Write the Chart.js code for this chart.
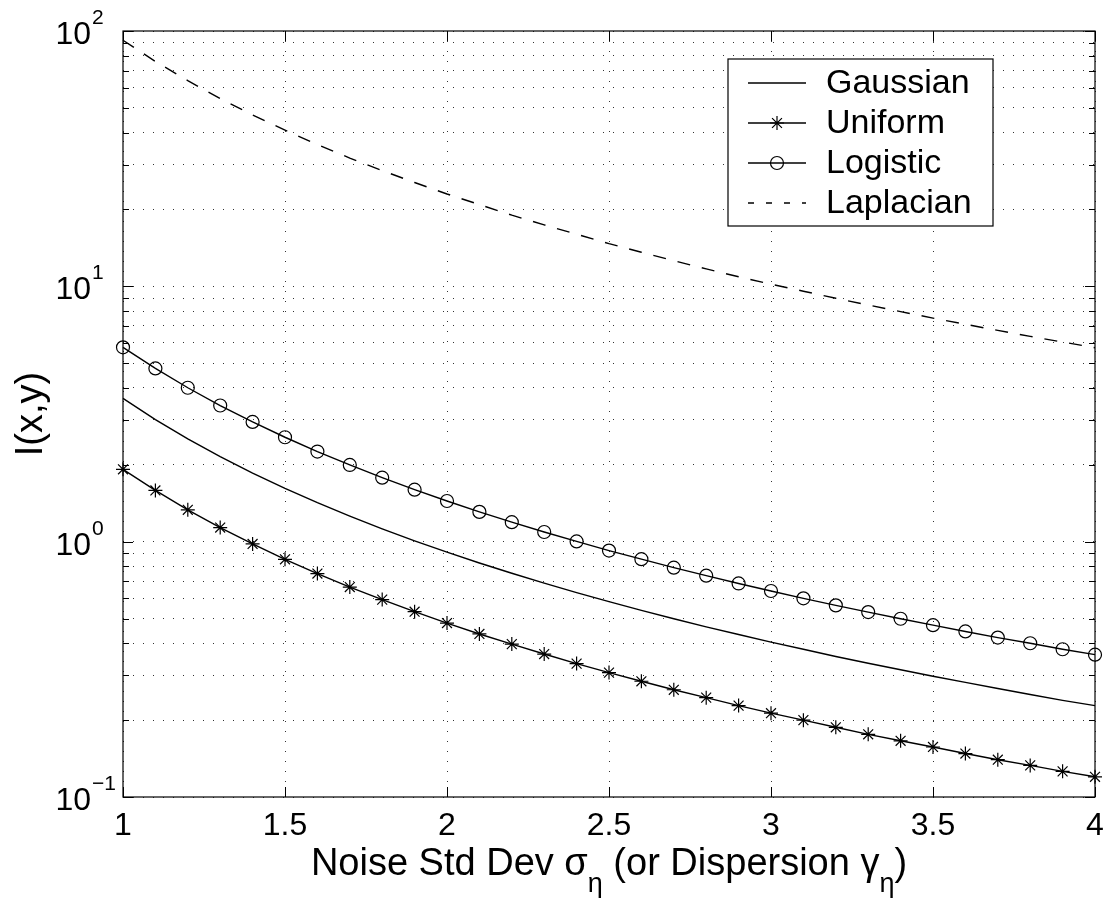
<!DOCTYPE html>
<html>
<head>
<meta charset="utf-8">
<title>I(x,y) vs noise</title>
<script src="https://cdn.jsdelivr.net/npm/chart.js@4/dist/chart.umd.min.js"></script>
<style>
  html, body { margin: 0; padding: 0; background: #fff; }
</style>
</head>
<body>
<canvas id="chart" width="1111" height="903"></canvas>
<script>
// values
const sigma = [1.0, 1.1, 1.2, 1.3, 1.4, 1.5, 1.6, 1.7, 1.8, 1.9, 2.0, 2.1, 2.2, 2.3, 2.4, 2.5,
               2.6, 2.7, 2.8, 2.9, 3.0, 3.1, 3.2, 3.3, 3.4, 3.5, 3.6, 3.7, 3.8, 3.9, 4.0];
const gaussian = [3.64, 3.008, 2.528, 2.154, 1.857, 1.618, 1.422, 1.26, 1.123, 1.008, 0.91, 0.825, 0.752, 0.688, 0.632, 0.582,
                  0.538, 0.499, 0.464, 0.433, 0.404, 0.379, 0.355, 0.334, 0.315, 0.297, 0.281, 0.266, 0.252, 0.239, 0.228];
const uniform = [1.92, 1.587, 1.333, 1.136, 0.98, 0.853, 0.75, 0.664, 0.593, 0.532, 0.48, 0.435, 0.397, 0.363, 0.333, 0.307,
                 0.284, 0.263, 0.245, 0.228, 0.213, 0.2, 0.1875, 0.176, 0.166, 0.157, 0.148, 0.14, 0.133, 0.126, 0.12];
const logistic = [5.77, 4.769, 4.007, 3.414, 2.944, 2.564, 2.254, 1.997, 1.781, 1.598, 1.443, 1.308, 1.192, 1.091, 1.002, 0.923,
                  0.854, 0.791, 0.736, 0.686, 0.641, 0.6, 0.563, 0.53, 0.499, 0.471, 0.445, 0.421, 0.4, 0.379, 0.361];
const laplacian = [92, 76, 63.9, 54.4, 46.9, 40.9, 35.9, 31.8, 28.4, 25.5, 23.0, 20.9, 19.0, 17.4, 16.0, 14.7,
                   13.6, 12.6, 11.7, 10.9, 10.2, 9.57, 8.98, 8.45, 7.96, 7.51, 7.1, 6.72, 6.37, 6.05, 5.75];

const seriesNames = ['Gaussian', 'Uniform', 'Logistic', 'Laplacian'];

const xTicks = [1, 1.5, 2, 2.5, 3, 3.5, 4];
const xTickLabels = ['1', '1.5', '2', '2.5', '3', '3.5', '4'];
const yTicks = [0.1, 0.2, 0.3, 0.4, 0.5, 0.6, 0.7, 0.8, 0.9,
                1, 2, 3, 4, 5, 6, 7, 8, 9,
                10, 20, 30, 40, 50, 60, 70, 80, 90, 100];
const yDecades = [0.1, 1, 10, 100];
const yDecadeExp = ['\u22121', '0', '1', '2'];

const xTitle = 'Noise Std Dev ';
const yTitle = 'I(x,y)';

const FONT = '"Liberation Sans", Arial, Helvetica, sans-serif';

function points(ys) {
    return sigma.map((x, i) => ({ x: x, y: ys[i] }));
}

function lineSet(label, ys, extra) {
    return Object.assign({
        label: label,
        data: points(ys),
        borderColor: '#000',
        backgroundColor: 'transparent',
        borderWidth: 1.4,
        pointRadius: 0,
        pointBorderColor: '#000',
        pointBackgroundColor: 'transparent',
        pointBorderWidth: 1.2,
        tension: 0,
        clip: false
    }, extra || {});
}

// matlab style box, inward ticks, labels, legend
const matlabAxes = {
    id: 'matlabAxes',
    afterDraw(chart) {
        const ctx = chart.ctx;
        const a = chart.chartArea;
        const xs = chart.scales.x;
        const ys = chart.scales.y;
        ctx.save();

        // box
        ctx.strokeStyle = '#000';
        ctx.lineWidth = 1.2;
        ctx.strokeRect(a.left, a.top, a.right - a.left, a.bottom - a.top);

        // x ticks, bottom and top
        ctx.lineWidth = 1;
        ctx.beginPath();
        xTicks.forEach(v => {
            const px = Math.round(xs.getPixelForValue(v)) + 0.5;
            ctx.moveTo(px, a.bottom); ctx.lineTo(px, a.bottom - 10);
            ctx.moveTo(px, a.top); ctx.lineTo(px, a.top + 10);
        });
        // y ticks, left and right
        yTicks.forEach(v => {
            const py = Math.round(ys.getPixelForValue(v)) + 0.5;
            const len = yDecades.includes(v) ? 10 : 6;
            ctx.moveTo(a.left, py); ctx.lineTo(a.left + len, py);
            ctx.moveTo(a.right, py); ctx.lineTo(a.right - len, py);
        });
        ctx.stroke();

        // x tick labels
        ctx.fillStyle = '#000';
        ctx.font = '32px ' + FONT;
        ctx.textAlign = 'center';
        ctx.textBaseline = 'alphabetic';
        xTicks.forEach((v, i) => {
            ctx.fillText(xTickLabels[i], xs.getPixelForValue(v), a.bottom + 38);
        });

        // y tick labels 10^n
        yDecades.forEach((v, i) => {
            const py = ys.getPixelForValue(v);
            ctx.font = '32px ' + FONT;
            ctx.textAlign = 'right';
            ctx.fillText('10', a.left - 32, py + 13);
            ctx.font = '21px ' + FONT;
            ctx.textAlign = 'left';
            ctx.fillText(yDecadeExp[i], a.left - 31, py - 7);
        });

        // x title with greek subscripts
        const parts = [
            { t: xTitle, sub: false },
            { t: '\u03c3', sub: false },
            { t: '\u03b7', sub: true },
            { t: ' (or Dispersion ', sub: false },
            { t: '\u03b3', sub: false },
            { t: '\u03b7', sub: true },
            { t: ')', sub: false }
        ];
        const big = '38px ' + FONT, small = '27px ' + FONT;
        let total = 0;
        parts.forEach(p => { ctx.font = p.sub ? small : big; p.w = ctx.measureText(p.t).width; total += p.w; });
        let tx = (a.left + a.right) / 2 - total / 2;
        const base = a.bottom + 78;
        ctx.textAlign = 'left';
        parts.forEach(p => {
            ctx.font = p.sub ? small : big;
            ctx.fillText(p.t, tx, p.sub ? base + 17 : base);
            tx += p.w;
        });

        // y title
        ctx.save();
        ctx.translate(a.left - 91, (a.top + a.bottom) / 2);
        ctx.rotate(-Math.PI / 2);
        ctx.font = big;
        ctx.textAlign = 'center';
        ctx.textBaseline = 'middle';
        ctx.fillText(yTitle, 0, 0);
        ctx.restore();

        // legend
        const lx0 = a.right - 367, lx1 = a.right - 102;
        const ly0 = a.top + 28, ly1 = a.top + 195;
        ctx.fillStyle = '#fff';
        ctx.fillRect(lx0, ly0, lx1 - lx0, ly1 - ly0);
        ctx.strokeStyle = '#000';
        ctx.lineWidth = 1.2;
        ctx.strokeRect(lx0, ly0, lx1 - lx0, ly1 - ly0);
        chart.data.datasets.forEach((ds, i) => {
            const ry = ly0 + 24 + i * 40;
            ctx.strokeStyle = '#000';
            ctx.lineWidth = ds.borderWidth;
            ctx.setLineDash(ds.legendDash || []);
            ctx.beginPath();
            ctx.moveTo(lx0 + 20, ry);
            ctx.lineTo(lx0 + 78, ry);
            ctx.stroke();
            ctx.setLineDash([]);
            if (ds.pointRadius > 0) {
                ctx.lineWidth = ds.pointBorderWidth;
                ctx.fillStyle = 'transparent';
                Chart.helpers.drawPoint(ctx, {
                    pointStyle: ds.pointStyle, radius: ds.pointRadius,
                    borderWidth: ds.pointBorderWidth, rotation: 0
                }, lx0 + 49, ry);
            }
            ctx.fillStyle = '#000';
            ctx.font = '34px ' + FONT;
            ctx.textAlign = 'left';
            ctx.textBaseline = 'middle';
            ctx.fillText(ds.label, lx0 + 98, ry + 1);
            ctx.textBaseline = 'alphabetic';
        });

        ctx.restore();
    }
};

const gridOpts = {
    color: 'rgba(0,0,0,0.8)',
    lineWidth: 1,
    drawTicks: false
};

new Chart(document.getElementById('chart'), {
    type: 'line',
    data: {
        datasets: [
            lineSet(seriesNames[0], gaussian),
            lineSet(seriesNames[1], uniform, { pointRadius: 7, pointStyle: 'star' }),
            lineSet(seriesNames[2], logistic, { pointRadius: 6.5, pointStyle: 'circle' }),
            lineSet(seriesNames[3], laplacian, { borderDash: [13, 12], legendDash: [6, 12] })
        ]
    },
    plugins: [matlabAxes],
    options: {
        responsive: false,
        animation: false,
        events: [],
        layout: { padding: { left: 123, top: 31, right: 16, bottom: 106 } },
        plugins: {
            legend: { display: false },
            tooltip: { enabled: false }
        },
        scales: {
            x: {
                type: 'linear',
                min: 1,
                max: 4,
                afterBuildTicks: s => { s.ticks = xTicks.map(v => ({ value: v })); },
                afterFit: s => { s.height = 0; },
                ticks: { display: false },
                grid: gridOpts,
                border: { display: false, dash: [1, 9] }
            },
            y: {
                type: 'logarithmic',
                min: 0.1,
                max: 100,
                afterBuildTicks: s => { s.ticks = yTicks.map(v => ({ value: v })); },
                afterFit: s => { s.width = 0; },
                ticks: { display: false },
                grid: gridOpts,
                border: { display: false, dash: [1, 9] }
            }
        }
    }
});
</script>
</body>
</html>
